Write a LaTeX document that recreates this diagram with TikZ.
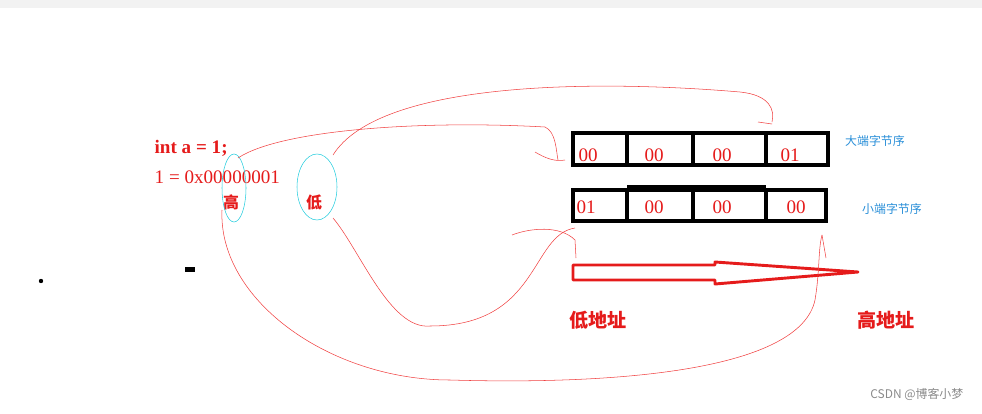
\documentclass[tikz,border=0pt]{standalone}
\usepackage{fontspec}
\setmainfont{Liberation Serif}
\newfontfamily\cjk{Noto Sans CJK SC}
\usetikzlibrary{positioning, calc}
\definecolor{inkred}{HTML}{E51B1B}
\definecolor{linered}{HTML}{F04040}
\definecolor{ringcyan}{HTML}{22CCDD}
\definecolor{labelblue}{HTML}{2A8FD8}
\definecolor{markgray}{HTML}{8A8A8A}

\begin{document}
\begin{tikzpicture}[x=0.0265cm, y=-0.0265cm,
    byte/.style={font=\Large, color=inkred, anchor=west},
    row/.style={draw=black, line width=2.6pt},
    note/.style={font=\cjk\small, color=labelblue},
    addr/.style={font=\cjk\bfseries\Large, color=inkred},
    sketch/.style={draw=linered, thin}
]
\useasboundingbox (0,0) rectangle (982,413);
\fill[gray!10] (0,0) rectangle (982,8);

% Source text
\node[font=\bfseries\Large, color=inkred, anchor=west] (decl) at (150,148) {int a = 1;};
\node[font=\Large, color=inkred, anchor=west] (hex) at (150,177) {1 = 0x00000001};
\node[font=\cjk\bfseries\large, color=inkred] (hi) at (231,202) {高};
\node[font=\cjk\bfseries\large, color=inkred] (lo) at (314,202) {低};
\draw[ringcyan] (234,188) ellipse (12 and 34);
\draw[ringcyan] (317,187) ellipse (20 and 33);

% Big endian
\draw[row] (573,133) rectangle (828,165);
\foreach \x in {627,693,766} { \draw[row] (\x,133) -- (\x,165); }
\node[byte] (b1) at (574,155) {00};
\node[byte] (b2) at (640,155) {00};
\node[byte] (b3) at (708,155) {00};
\node[byte] (b4) at (776,155) {01};
\node[note] (big) at (875,141) {大端字节序};

% Little endian
\draw[row] (573,190) rectangle (826,221);
\foreach \x in {627,693,766} { \draw[row] (\x,190) -- (\x,221); }
\draw[black, line width=4pt] (627,188) -- (766,188);
\node[byte] (l1) at (572,207) {01};
\node[byte] (l2) at (640,207) {00};
\node[byte] (l3) at (708,207) {00};
\node[byte] (l4) at (782,207) {00};
\node[note] (little) at (892,209) {小端字节序};

% Address arrow
\draw[inkred, line width=2.2pt, line join=round]
  (573,265) -- (715,265) -- (715,262) -- (858,272) -- (715,284) -- (715,280) -- (573,280) -- cycle;
\node[addr] (low) at (598,320) {低地址};
\node[addr] (high) at (886,320) {高地址};

% Stray marks
\fill[black] (41,281) circle (2.2);
\fill[black] (185,267) rectangle (195,272);

% Freehand links
\draw[sketch] (333,155) .. controls (380,80) and (600,80) .. (740,92) .. controls (770,95) and (775,110) .. (772,122);
\draw[sketch] (758,122) -- (772,124);
\draw[sketch] (238,158) .. controls (280,130) and (420,120) .. (545,127) .. controls (556,132) and (556,150) .. (558,160);
\draw[sketch] (535,152) .. controls (545,158) and (555,162) .. (565,160);
\draw[sketch] (333,218) .. controls (360,250) and (390,330) .. (430,326) .. controls (540,326) and (530,235) .. (575,228);
\draw[sketch] (512,235) .. controls (530,228) and (560,225) .. (575,240) -- (576,258);
\draw[sketch] (222,210) .. controls (218,300) and (330,380) .. (450,380) .. controls (620,385) and (800,370) .. (815,300) .. controls (820,270) and (818,250) .. (822,235);
\draw[sketch] (822,235) -- (826,258);

% Watermark
\node[font=\cjk\small, color=markgray, anchor=east] (mark) at (968,394) {CSDN @博客小梦};
\end{tikzpicture}
\end{document}
